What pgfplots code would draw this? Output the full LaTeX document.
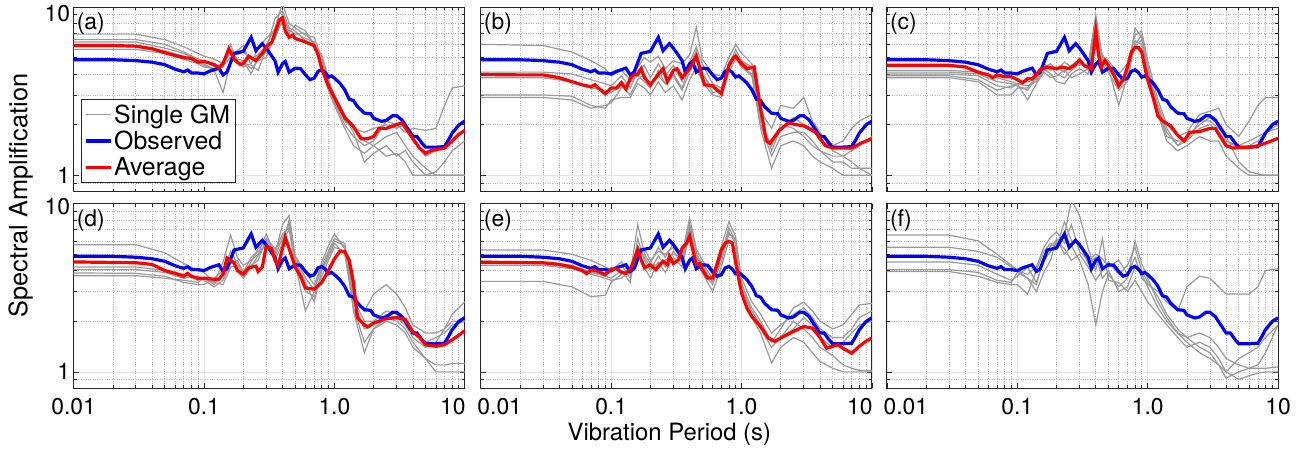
\documentclass[border=0pt]{standalone}
\usepackage{pgfplots}
\usepackage{pgfplotstable}
\pgfplotsset{compat=1.18}
\usepackage{fontspec}
\setmainfont{TeX Gyre Heros}
\definecolor{gm}{gray}{0.6}
\definecolor{axc}{gray}{0.15}
\newcommand\tfont{\fontsize{23}{26}\selectfont}
\newcommand\lfont{\fontsize{25}{27}\selectfont}

% Observed (same in every panel)
\pgfplotstableread[row sep=\\]{x y\\
0.01 4.86\\ 0.02 4.86\\ 0.03 4.8\\ 0.04 4.7\\ 0.05 4.54\\ 0.06 4.27\\ 0.07 4.12\\ 0.075 4.22\\ 0.08 4.05\\ 0.09 4.05\\
0.1 4.0\\ 0.11 4.15\\ 0.13 4.33\\ 0.14 3.95\\ 0.15 4.1\\ 0.17 5.3\\ 0.2 5.45\\ 0.23 6.6\\ 0.25 5.5\\ 0.28 6.05\\
0.3 5.7\\ 0.35 4.8\\ 0.37 4.1\\ 0.4 4.6\\ 0.42 4.75\\ 0.45 4.1\\ 0.5 4.33\\ 0.55 4.3\\ 0.6 3.95\\ 0.65 3.7\\
0.7 3.78\\ 0.75 4.15\\ 0.8 4.23\\ 0.85 4.08\\ 0.9 3.83\\ 0.95 3.9\\ 1.0 3.78\\ 1.1 3.53\\ 1.2 3.22\\ 1.3 2.83\\
1.4 2.78\\ 1.5 2.56\\ 1.7 2.34\\ 1.9 2.32\\ 2.0 2.18\\ 2.3 2.09\\ 2.5 2.12\\ 2.8 2.26\\ 3.0 2.26\\ 3.3 2.13\\
3.5 1.99\\ 4.0 1.7\\ 4.3 1.7\\ 4.7 1.55\\ 5.0 1.47\\ 6.0 1.47\\ 7.0 1.48\\ 7.5 1.62\\ 8 1.78\\ 9 1.99\\ 10 2.1\\
}\obs

% Average, panels a-e
\pgfplotstableread[row sep=\\]{x y\\
0.01 5.9\\ 0.02 5.9\\ 0.03 5.85\\ 0.04 5.65\\ 0.05 5.35\\ 0.06 5.15\\ 0.07 5.0\\ 0.08 4.95\\ 0.09 4.7\\ 0.1 4.75\\
0.12 4.55\\ 0.13 4.35\\ 0.14 4.6\\ 0.155 5.65\\ 0.17 4.9\\ 0.19 4.55\\ 0.2 4.6\\ 0.22 5.1\\ 0.25 4.8\\ 0.28 5.3\\
0.3 5.8\\ 0.33 6.15\\ 0.35 7.0\\ 0.38 8.4\\ 0.4 8.6\\ 0.42 7.2\\ 0.45 6.6\\ 0.48 6.8\\ 0.5 6.5\\ 0.6 6.2\\
0.7 5.9\\ 0.75 5.2\\ 0.8 4.3\\ 0.9 3.4\\ 1.0 2.9\\ 1.1 2.5\\ 1.2 2.2\\ 1.4 1.95\\ 1.6 1.65\\ 1.8 1.65\\
2.0 1.7\\ 2.2 1.9\\ 2.5 1.9\\ 3.0 2.0\\ 3.3 2.05\\ 3.7 1.8\\ 4.0 1.65\\ 4.5 1.45\\ 5.0 1.35\\ 5.5 1.4\\
6 1.42\\ 7 1.45\\ 8 1.6\\ 9 1.75\\ 10 1.85\\
}\avgA
\pgfplotstableread[row sep=\\]{x y\\
0.01 3.97\\ 0.02 3.95\\ 0.03 3.95\\ 0.04 3.8\\ 0.05 3.6\\ 0.06 3.45\\ 0.07 3.35\\ 0.075 3.45\\ 0.08 3.3\\ 0.09 3.05\\
0.1 3.3\\ 0.11 3.3\\ 0.12 3.55\\ 0.13 3.25\\ 0.14 3.75\\ 0.15 3.97\\ 0.16 3.97\\ 0.17 4.3\\ 0.18 3.8\\ 0.2 3.45\\
0.22 3.8\\ 0.25 4.3\\ 0.27 3.6\\ 0.3 4.2\\ 0.32 4.3\\ 0.35 3.8\\ 0.4 4.3\\ 0.45 5.1\\ 0.52 3.45\\ 0.6 3.4\\
0.65 3.2\\ 0.7 3.05\\ 0.8 4.5\\ 0.87 5.0\\ 0.9 5.1\\ 1.0 4.6\\ 1.1 4.3\\ 1.25 4.4\\ 1.4 2.5\\ 1.55 1.6\\
1.65 1.55\\ 1.8 1.7\\ 1.95 1.85\\ 2.3 2.05\\ 2.6 2.0\\ 3.0 1.97\\ 3.7 1.8\\ 4.4 1.5\\ 5 1.45\\ 6 1.45\\
7 1.45\\ 8.2 1.55\\ 10 1.65\\
}\avgB
\pgfplotstableread[row sep=\\]{x y\\
0.01 4.5\\ 0.03 4.5\\ 0.04 4.4\\ 0.05 4.1\\ 0.06 3.95\\ 0.065 3.8\\ 0.07 3.95\\ 0.08 3.85\\ 0.09 3.85\\ 0.1 3.7\\
0.11 3.55\\ 0.12 3.75\\ 0.13 3.75\\ 0.14 3.95\\ 0.15 4.25\\ 0.17 4.4\\ 0.2 4.3\\ 0.22 4.4\\ 0.25 4.3\\ 0.28 4.55\\
0.3 4.85\\ 0.33 4.45\\ 0.35 4.4\\ 0.37 4.3\\ 0.4 7.2\\ 0.42 5.2\\ 0.44 4.4\\ 0.47 4.8\\ 0.5 4.5\\ 0.55 3.95\\
0.6 3.4\\ 0.65 3.7\\ 0.7 4.4\\ 0.75 5.4\\ 0.8 5.75\\ 0.85 5.75\\ 0.9 5.4\\ 0.95 4.4\\ 1.0 3.7\\ 1.1 2.9\\
1.2 2.25\\ 1.3 2.1\\ 1.5 1.97\\ 1.7 1.73\\ 1.9 1.6\\ 2.1 1.8\\ 2.5 1.82\\ 3 1.9\\ 3.3 1.9\\ 3.6 1.7\\
4 1.5\\ 4.5 1.45\\ 5 1.46\\ 6 1.46\\ 7 1.5\\ 8 1.55\\ 10 1.66\\
}\avgC
\pgfplotstableread[row sep=\\]{x y\\
0.01 4.5\\ 0.03 4.45\\ 0.04 4.35\\ 0.05 4.0\\ 0.06 3.85\\ 0.07 3.7\\ 0.075 3.85\\ 0.08 3.7\\ 0.09 3.6\\ 0.1 3.6\\
0.12 3.55\\ 0.13 3.55\\ 0.14 3.8\\ 0.15 4.75\\ 0.17 4.45\\ 0.18 4.0\\ 0.2 3.8\\ 0.22 4.15\\ 0.25 4.25\\ 0.26 3.95\\
0.28 4.2\\ 0.3 5.55\\ 0.33 5.4\\ 0.35 4.6\\ 0.37 4.3\\ 0.4 5.4\\ 0.42 6.3\\ 0.45 5.4\\ 0.5 4.2\\ 0.55 3.7\\
0.6 3.15\\ 0.7 3.1\\ 0.8 3.4\\ 0.9 4.0\\ 1.0 4.7\\ 1.1 5.2\\ 1.2 5.2\\ 1.3 4.6\\ 1.4 3.4\\ 1.5 2.1\\
1.7 1.9\\ 1.8 1.85\\ 2 1.95\\ 2.5 2.07\\ 3 2.1\\ 3.5 2.05\\ 4 1.73\\ 4.5 1.6\\ 5 1.45\\ 6 1.42\\
7 1.45\\ 8 1.55\\ 9 1.65\\ 10 1.76\\
}\avgD
\pgfplotstableread[row sep=\\]{x y\\
0.01 4.48\\ 0.03 4.45\\ 0.04 4.35\\ 0.05 4.2\\ 0.06 4.0\\ 0.065 3.83\\ 0.07 4.05\\ 0.08 3.95\\ 0.09 3.78\\ 0.1 4.08\\
0.11 4.1\\ 0.12 3.9\\ 0.13 3.85\\ 0.14 4.05\\ 0.15 4.64\\ 0.16 5.32\\ 0.17 4.64\\ 0.18 4.15\\ 0.2 4.33\\ 0.22 4.05\\
0.25 4.54\\ 0.27 4.33\\ 0.28 4.86\\ 0.3 4.4\\ 0.33 4.64\\ 0.35 5.44\\ 0.38 5.83\\ 0.4 6.4\\ 0.42 5.44\\ 0.45 4.33\\
0.48 4.4\\ 0.5 4.05\\ 0.55 3.61\\ 0.6 3.61\\ 0.65 4.33\\ 0.7 5.3\\ 0.75 5.83\\ 0.8 5.97\\ 0.85 5.83\\ 0.9 4.5\\
0.95 3.61\\ 1.0 2.94\\ 1.1 2.39\\ 1.2 2.13\\ 1.4 1.86\\ 1.6 1.59\\ 1.8 1.52\\ 2 1.59\\ 2.5 1.74\\ 3 1.86\\
3.5 1.82\\ 4 1.6\\ 4.5 1.38\\ 5 1.42\\ 5.5 1.45\\ 6 1.38\\ 7 1.29\\ 8 1.42\\ 9 1.52\\ 10 1.59\\
}\avgE

% Single ground motions: one row per record, one column per period
\pgfplotstableread[header=has colnames]{
name 0.01 0.03 0.05 0.07 0.09 0.1 0.12 0.14 0.16 0.18 0.2 0.23 0.26 0.3 0.35 0.4 0.45 0.5 0.6 0.7 0.8 0.9 1.0 1.2 1.4 1.7 2 2.5 3 3.5 4 5 6 7 8 10
g1 6.9 6.9 6.4 5.8 5.3 5.1 4.9 4.6 5.6 5.2 5.4 4.9 5.2 5.9 7.5 10.5 8.0 7.5 6.8 6.6 5.0 3.6 3.0 2.3 1.9 1.6 1.5 1.7 1.8 1.5 1.3 1.1 1.0 1.0 1.0 1.0
g2 6.4 6.4 6.0 5.4 4.9 4.8 4.4 4.5 5.0 4.6 4.8 4.3 4.8 5.0 6.8 9.0 7.0 7.8 7.2 6.0 4.5 3.3 2.7 2.0 1.7 1.5 1.6 2.1 2.0 1.8 1.9 1.85 1.9 2.6 3.3 3.4
g3 6.2 6.2 5.7 5.3 4.8 4.6 4.2 3.1 4.8 5.5 5.9 4.5 4.2 5.6 8.5 9.5 7.5 7.2 6.3 5.8 5.2 3.8 2.8 2.2 1.8 1.2 1.35 1.5 1.3 1.4 1.2 1.0 1.0 1.0 1.0 1.0
g4 5.9 5.9 5.5 5.1 4.7 4.5 4.3 4.4 6.0 4.7 4.4 4.6 5.7 6.5 7.3 8.0 6.8 7.0 6.5 6.2 4.2 3.2 2.6 1.9 1.5 1.35 1.5 1.3 1.35 1.2 1.0 1.0 1.05 1.2 1.4 1.6
g5 5.6 5.6 5.3 4.9 4.6 4.4 4.3 4.7 5.3 4.9 4.8 4.0 5.0 5.4 6.5 8.5 7.3 6.9 7.0 6.0 4.8 3.5 2.9 2.1 1.9 1.8 1.9 2.0 1.9 2.0 1.6 1.3 1.4 1.5 1.8 2.1
}\rawA
\pgfplotstableread[header=has colnames]{
name 0.01 0.03 0.05 0.07 0.09 0.1 0.12 0.14 0.16 0.18 0.2 0.23 0.26 0.3 0.35 0.4 0.45 0.5 0.6 0.7 0.8 0.9 1.0 1.2 1.4 1.7 2 2.5 3 3.5 4 5 6 7 8 10
g1 6.0 5.9 5.4 4.8 4.3 3.9 4.2 3.7 4.4 5.0 4.7 5.1 4.3 4.8 4.6 5.2 7.6 4.9 4.0 3.9 5.0 6.0 5.3 4.6 2.2 1.4 1.9 2.2 2.0 1.9 1.6 1.5 1.6 1.9 2.1 2.3
g2 4.1 4.1 4.0 3.7 3.5 3.4 3.9 3.3 4.2 4.5 3.8 4.6 3.9 4.5 3.6 4.7 5.8 4.6 3.5 3.3 4.4 5.6 4.8 4.4 2.4 1.9 2.6 2.5 2.9 2.1 1.8 1.4 1.3 1.4 1.5 1.7
g3 3.8 3.8 3.6 3.3 3.2 3.1 3.4 3.0 3.7 4.0 3.4 3.9 3.5 3.9 3.2 4.1 5.2 4.1 3.1 3.2 4.7 5.2 4.4 3.9 2.0 1.5 2.0 1.9 1.7 1.5 1.4 1.3 1.3 1.2 1.1 1.0
g4 3.0 3.0 2.95 2.6 2.5 2.8 2.9 2.9 3.5 3.3 3.0 3.6 3.1 3.4 2.8 3.7 4.4 3.6 3.0 2.9 4.1 4.9 4.4 4.0 1.9 1.1 1.5 1.6 1.5 1.3 1.2 1.1 1.0 1.0 1.0 1.0
g5 2.9 2.9 2.8 2.5 2.6 2.7 3.3 3.6 3.9 3.6 3.3 4.2 3.5 4.0 3.3 4.5 5.5 4.0 3.3 3.2 4.3 5.3 4.7 4.3 2.0 1.3 1.7 1.8 1.8 1.6 1.4 1.2 1.2 1.1 1.1 1.1
}\rawB
\pgfplotstableread[header=has colnames]{
name 0.01 0.03 0.05 0.07 0.09 0.1 0.12 0.14 0.16 0.18 0.2 0.23 0.26 0.3 0.35 0.4 0.45 0.5 0.6 0.7 0.8 0.9 1.0 1.2 1.4 1.7 2 2.5 3 3.5 4 5 6 7 8 10
g1 4.2 4.2 4.1 3.8 3.6 3.5 3.6 3.7 4.4 4.6 4.2 4.7 4.4 4.5 4.6 9.0 5.0 4.8 4.0 4.6 6.8 7.2 4.8 2.8 2.0 1.7 1.8 2.3 2.4 2.5 2.0 1.7 2.1 2.6 2.9 2.9
g2 4.0 4.0 3.9 3.4 3.3 3.5 2.8 3.5 4.1 3.8 3.9 4.2 3.8 4.0 4.3 8.3 4.7 4.3 2.6 3.9 7.5 6.6 4.2 2.5 1.8 1.5 1.6 1.9 2.0 1.8 1.6 1.5 1.6 1.7 1.8 2.0
g3 3.8 3.8 3.6 3.0 3.0 3.3 3.3 3.9 4.3 4.0 3.6 3.5 4.0 4.3 4.0 7.5 4.5 4.1 3.2 3.6 6.3 6.0 4.5 2.3 1.6 1.4 1.5 1.7 1.6 1.6 1.3 1.1 1.0 1.0 1.0 1.0
g4 3.9 3.9 3.7 3.2 3.4 3.5 3.4 3.6 4.2 4.4 4.0 3.8 4.2 4.6 4.4 6.5 5.2 4.6 3.6 4.1 5.8 6.4 4.0 2.4 1.7 1.6 1.6 2.1 2.1 1.9 1.7 1.2 1.05 1.02 1.0 1.0
g5 4.1 4.1 4.0 3.6 3.5 3.4 3.2 3.8 4.6 4.2 4.4 4.1 4.5 4.9 4.2 5.8 4.9 4.5 3.4 4.3 6.0 6.8 4.4 2.6 1.9 1.5 1.7 2.0 2.2 2.0 1.6 1.45 1.5 1.6 1.8 1.9
}\rawC
\pgfplotstableread[header=has colnames]{
name 0.01 0.03 0.05 0.07 0.09 0.1 0.12 0.14 0.16 0.18 0.2 0.23 0.26 0.3 0.35 0.4 0.45 0.5 0.6 0.7 0.8 0.9 1.0 1.2 1.4 1.7 2 2.5 3 3.5 4 5 6 7 8 10
g1 5.7 5.7 5.1 4.4 4.0 3.9 3.4 4.5 6.5 4.8 4.3 4.6 5.0 6.6 5.0 7.5 8.5 4.9 3.9 3.3 4.3 5.2 6.2 5.8 2.9 2.3 2.9 3.3 2.9 2.4 1.9 1.7 1.7 1.8 2.2 2.6
g2 4.2 4.2 4.0 3.8 3.5 3.6 3.3 3.9 5.2 4.4 4.0 4.3 4.6 6.2 5.4 6.0 7.0 4.4 2.3 3.0 4.5 5.6 6.6 5.4 2.3 1.3 1.8 2.1 2.0 1.8 1.5 1.2 1.0 1.0 1.0 1.0
g3 4.05 4.05 3.9 3.6 3.7 3.5 3.2 3.5 4.4 4.6 3.9 4.8 5.2 5.6 4.6 5.8 8.0 4.6 3.4 2.6 4.0 4.8 5.8 5.0 2.6 1.8 1.9 2.2 2.1 1.9 1.6 1.4 1.5 1.8 2.0 2.0
g4 3.87 3.85 3.7 3.4 3.3 3.3 3.6 4.0 4.8 4.0 3.6 4.2 4.9 5.8 4.8 6.3 7.6 4.3 3.0 2.8 3.7 4.6 5.5 5.2 2.4 1.5 1.8 2.0 1.9 1.7 1.4 1.2 1.1 1.1 1.12 1.12
g5 3.73 3.73 3.6 3.5 3.4 3.6 3.4 3.3 4.2 4.3 3.8 4.5 5.4 6.0 5.2 6.6 7.2 4.8 3.6 3.1 4.1 5.0 6.0 5.6 2.7 2.0 2.0 2.3 2.2 1.9 1.7 1.5 1.6 1.7 1.9 2.0
}\rawD
\pgfplotstableread[header=has colnames]{
name 0.01 0.03 0.05 0.07 0.09 0.1 0.12 0.14 0.16 0.18 0.2 0.23 0.26 0.3 0.35 0.4 0.45 0.5 0.6 0.7 0.8 0.9 1.0 1.2 1.4 1.7 2 2.5 3 3.5 4 5 6 7 8 10
g1 5.3 5.3 5.0 4.6 4.2 4.0 4.5 3.8 7.5 5.0 4.4 5.5 4.8 5.8 5.0 8.2 5.4 4.6 3.8 5.6 7.8 6.4 3.3 2.4 2.0 1.5 1.8 2.4 2.6 2.3 2.0 1.8 1.9 2.2 2.5 2.55
g2 4.55 4.5 4.3 3.9 3.7 3.6 4.0 3.4 6.2 4.6 4.0 4.9 4.2 5.2 4.4 7.2 4.8 4.3 3.4 4.8 6.8 5.8 3.0 2.1 1.7 1.13 1.4 1.6 1.5 1.3 1.15 1.05 1.0 1.0 1.0 1.0
g3 3.45 3.45 3.2 2.8 2.85 3.4 3.8 4.2 5.0 4.2 3.6 4.5 3.9 4.8 4.2 6.6 4.4 3.9 3.0 4.2 6.0 5.4 3.1 2.3 1.9 1.5 1.6 2.0 1.8 1.6 1.4 1.25 1.1 1.05 1.02 1.02
g4 4.3 4.3 4.1 3.8 3.6 3.5 3.6 4.0 5.6 4.8 4.2 4.4 4.6 5.0 4.8 7.6 5.0 4.4 3.6 5.0 7.2 6.0 3.4 2.2 1.8 1.4 1.6 1.8 2.1 1.9 1.6 1.4 1.5 1.7 1.9 2.0
g5 4.4 4.4 4.2 3.9 3.8 3.9 4.3 3.6 5.2 5.4 4.6 5.2 5.0 5.5 4.6 7.0 5.2 4.0 3.3 4.5 6.6 6.2 3.6 2.6 2.2 1.7 1.9 2.2 2.4 2.1 1.8 1.6 1.6 1.8 2.1 2.3
}\rawE
\pgfplotstableread[header=has colnames]{
name 0.01 0.03 0.05 0.07 0.09 0.1 0.12 0.14 0.16 0.18 0.2 0.23 0.26 0.3 0.35 0.4 0.45 0.5 0.6 0.7 0.8 0.9 1.0 1.2 1.4 1.7 2 2.5 3 3.5 4 5 6 7 8 10
g1 6.5 6.5 6.0 5.0 4.3 4.0 3.6 3.3 4.8 5.6 6.0 5.4 4.6 5.0 4.2 3.5 4.0 4.5 3.8 4.3 5.5 4.0 3.4 2.8 2.2 1.8 1.6 1.4 1.3 1.1 0.92 1.0 1.05 1.05 1.05 1.07
g2 5.5 5.5 5.2 4.8 4.2 4.0 3.8 4.2 5.5 6.3 6.8 5.8 7.5 5.2 4.6 5.0 4.7 4.2 4.6 3.8 4.8 3.6 3.3 3.0 2.6 2.3 3.2 3.7 3.6 3.2 2.9 2.9 2.9 3.2 4.0 4.1
g3 4.5 4.5 4.3 3.8 3.5 3.7 4.2 3.4 4.6 5.2 5.8 6.5 10.5 8.5 5.4 4.0 6.2 3.5 3.4 3.0 3.5 3.0 2.6 2.2 1.9 1.6 1.4 1.5 1.4 1.2 1.0 1.2 1.3 1.4 1.6 1.9
g4 4.05 4.05 3.9 3.5 3.4 3.9 3.6 3.0 3.9 4.6 6.2 5.0 5.6 4.6 3.3 1.9 3.0 3.8 3.2 3.6 6.0 4.4 3.6 2.6 2.1 1.7 1.5 1.3 1.2 1.1 1.0 0.9 0.95 0.98 1.0 1.0
g5 3.95 3.95 3.7 3.4 3.3 3.3 2.9 4.0 5.2 5.8 5.5 7.8 6.0 5.8 4.4 4.8 3.6 4.0 3.0 3.2 4.2 3.8 3.2 2.4 2.0 1.7 1.6 1.7 1.6 1.4 1.2 1.1 1.05 1.1 1.3 1.9
}\rawF
\pgfplotstabletranspose[colnames from=name,input colnames to=x]\gmA{\rawA}
\pgfplotstabletranspose[colnames from=name,input colnames to=x]\gmB{\rawB}
\pgfplotstabletranspose[colnames from=name,input colnames to=x]\gmC{\rawC}
\pgfplotstabletranspose[colnames from=name,input colnames to=x]\gmD{\rawD}
\pgfplotstabletranspose[colnames from=name,input colnames to=x]\gmE{\rawE}
\pgfplotstabletranspose[colnames from=name,input colnames to=x]\gmF{\rawF}

\tikzset{
  gmline/.style={draw=gm, line width=1.2bp},
  obsline/.style={draw=blue, line width=3.2bp},
  avgline/.style={draw=red, line width=3.2bp},
  plab/.style={anchor=north west, inner sep=0pt, font=\tfont, xshift=3bp, yshift=-6bp},
}

\begin{document}
\pgfplotsset{
    scale only axis, width=392bp, height=185bp,
    xmin=0.01, xmax=10, ymin=0.8, ymax=10,
    xtick={0.01,0.1,1,10},
    ytick={1,10},
    minor xtick={0.02,0.03,0.04,0.05,0.06,0.07,0.08,0.09,0.2,0.3,0.4,0.5,0.6,0.7,0.8,0.9,2,3,4,5,6,7,8,9},
    minor ytick={0.9,2,3,4,5,6,7,8,9},
    grid=both,
    major grid style={solid, gray!22, line width=0.7bp},
    minor grid style={dotted, gray!55, line width=0.7bp},
    axis line style={axc, line width=0.9bp},
    tick style={axc, line width=0.7bp},
    major tick length=5bp, minor tick length=3bp,
    tick align=inside,
    tick label style={font=\tfont, text=black},
    xticklabel style={yshift=-7bp},
}
\begin{tikzpicture}
% (a)
\begin{loglogaxis}[xticklabels={}, yticklabels={1,{\raisebox{-6.5bp}[\height][\depth]{10}}},
  at={(71bp,262bp)}, anchor=south west,
  legend image code/.code={\draw[#1] (0bp,0bp) -- (25bp,0bp);},
  legend cell align=left,
  legend style={at={(0.018,0.049)}, anchor=south west, draw=axc, line width=0.8bp, fill=white,
    font=\lfont, inner xsep=3bp, inner ysep=3bp, row sep=2.5bp}]
\addplot[gmline] table[x=x,y=g1]{\gmA};
\addlegendentry{Single GM}
\addplot[gmline, forget plot] table[x=x,y=g2]{\gmA};
\addplot[gmline, forget plot] table[x=x,y=g3]{\gmA};
\addplot[gmline, forget plot] table[x=x,y=g4]{\gmA};
\addplot[gmline, forget plot] table[x=x,y=g5]{\gmA};
\addplot[obsline] table[x=x,y=y]{\obs};
\addlegendentry{Observed}
\addplot[avgline] table[x=x,y=y]{\avgA};
\addlegendentry{Average}
\node[plab] at (rel axis cs:0,1) {(a)};
\end{loglogaxis}
% (b)
\begin{loglogaxis}[xticklabels={}, yticklabels={}, at={(479bp,262bp)}, anchor=south west]
\addplot[gmline] table[x=x,y=g1]{\gmB};
\addplot[gmline] table[x=x,y=g2]{\gmB};
\addplot[gmline] table[x=x,y=g3]{\gmB};
\addplot[gmline] table[x=x,y=g4]{\gmB};
\addplot[gmline] table[x=x,y=g5]{\gmB};
\addplot[obsline] table[x=x,y=y]{\obs};
\addplot[avgline] table[x=x,y=y]{\avgB};
\node[plab] at (rel axis cs:0,1) {(b)};
\end{loglogaxis}
% (c)
\begin{loglogaxis}[xticklabels={}, yticklabels={}, at={(886bp,262bp)}, anchor=south west]
\addplot[gmline] table[x=x,y=g1]{\gmC};
\addplot[gmline] table[x=x,y=g2]{\gmC};
\addplot[gmline] table[x=x,y=g3]{\gmC};
\addplot[gmline] table[x=x,y=g4]{\gmC};
\addplot[gmline] table[x=x,y=g5]{\gmC};
\addplot[obsline] table[x=x,y=y]{\obs};
\addplot[avgline] table[x=x,y=y]{\avgC};
\node[plab] at (rel axis cs:0,1) {(c)};
\end{loglogaxis}
% (d)
\begin{loglogaxis}[yticklabels={1,{\raisebox{-3.5bp}[\height][\depth]{10}}},
  xticklabels={0.01,0.1,1.0,{10\kern24bp}}, at={(71bp,65bp)}, anchor=south west]
\addplot[gmline] table[x=x,y=g1]{\gmD};
\addplot[gmline] table[x=x,y=g2]{\gmD};
\addplot[gmline] table[x=x,y=g3]{\gmD};
\addplot[gmline] table[x=x,y=g4]{\gmD};
\addplot[gmline] table[x=x,y=g5]{\gmD};
\addplot[obsline] table[x=x,y=y]{\obs};
\addplot[avgline] table[x=x,y=y]{\avgD};
\node[plab] at (rel axis cs:0,1) {(d)};
\end{loglogaxis}
% (e)
\begin{loglogaxis}[yticklabels={}, xticklabels={{\kern38bp 0.01},0.1,1.0,{10\kern24bp}}, at={(479bp,65bp)}, anchor=south west]
\addplot[gmline] table[x=x,y=g1]{\gmE};
\addplot[gmline] table[x=x,y=g2]{\gmE};
\addplot[gmline] table[x=x,y=g3]{\gmE};
\addplot[gmline] table[x=x,y=g4]{\gmE};
\addplot[gmline] table[x=x,y=g5]{\gmE};
\addplot[obsline] table[x=x,y=y]{\obs};
\addplot[avgline] table[x=x,y=y]{\avgE};
\node[plab] at (rel axis cs:0,1) {(e)};
\end{loglogaxis}
% (f)
\begin{loglogaxis}[yticklabels={}, xticklabels={{\kern38bp 0.01},0.1,1.0,10}, at={(886bp,65bp)}, anchor=south west]
\addplot[gmline] table[x=x,y=g1]{\gmF};
\addplot[gmline] table[x=x,y=g2]{\gmF};
\addplot[gmline] table[x=x,y=g3]{\gmF};
\addplot[gmline] table[x=x,y=g4]{\gmF};
\addplot[gmline] table[x=x,y=g5]{\gmF};
\addplot[obsline] table[x=x,y=y]{\obs};
\node[plab] at (rel axis cs:0,1) {(f)};
\end{loglogaxis}
\node[rotate=90, font=\fontsize{25.5}{27}\selectfont] at (18bp,258bp) {Spectral Amplification};
\node[anchor=base, font=\fontsize{24}{26}\selectfont] at (668bp,13bp) {Vibration Period (s)};
\pgfresetboundingbox
\path[use as bounding box] (0,0) rectangle (1305bp,454bp);
\end{tikzpicture}
\end{document}
